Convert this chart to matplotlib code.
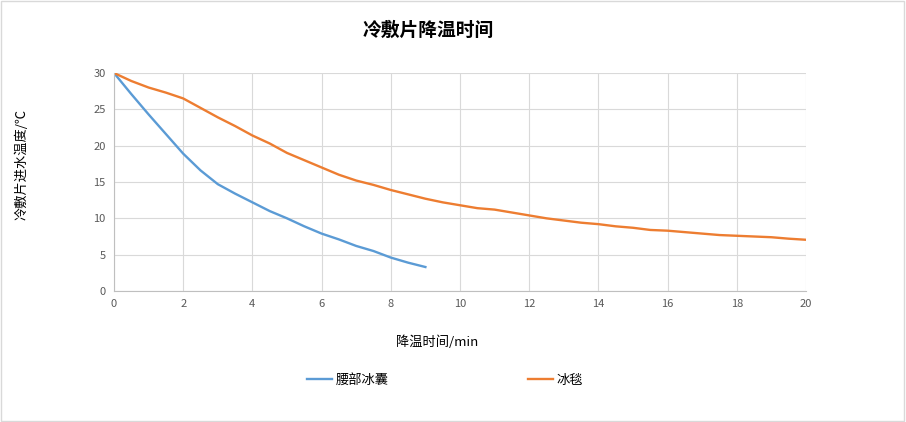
import matplotlib
matplotlib.use("Agg")
import matplotlib.pyplot as plt

plt.rcParams['font.family'] = ['Noto Sans CJK SC', 'DejaVu Sans']

# data (min, degC)
t_waist = [0, 0.5, 1, 1.5, 2, 2.5, 3, 3.5, 4, 4.5, 5, 5.5, 6, 6.5, 7, 7.5, 8, 8.5, 9]
temp_waist = [30, 27.1, 24.3, 21.6, 18.9, 16.6, 14.7, 13.4, 12.2, 11.0, 10.0, 8.9, 7.9, 7.1, 6.2, 5.5, 4.6, 3.9, 3.3]

t_blanket = [0, 0.5, 1, 1.5, 2, 2.5, 3, 3.5, 4, 4.5, 5, 5.5, 6, 6.5, 7, 7.5, 8, 8.5, 9, 9.5,
             10, 10.5, 11, 11.5, 12, 12.5, 13, 13.5, 14, 14.5, 15, 15.5, 16, 16.5, 17, 17.5,
             18, 18.5, 19, 19.5, 20]
temp_blanket = [30, 28.9, 28.0, 27.3, 26.5, 25.2, 23.9, 22.7, 21.4, 20.3, 19.0, 18.0, 17.0, 16.0,
                15.2, 14.6, 13.9, 13.3, 12.7, 12.2, 11.8, 11.4, 11.2, 10.8, 10.4, 10.0, 9.7, 9.4,
                9.2, 8.9, 8.7, 8.4, 8.3, 8.1, 7.9, 7.7, 7.6, 7.5, 7.4, 7.2, 7.05]

series_names = ['腰部冰囊', '冰毯']
colors = ['#5B9BD5', '#ED7D31']

fig = plt.figure(figsize=(9.06, 4.22), dpi=100)
ax = fig.add_axes([114 / 906, 1 - 291 / 422, 692 / 906, 218 / 422])

ax.plot(t_waist, temp_waist, color=colors[0], lw=1.7, label=series_names[0])
ax.plot(t_blanket, temp_blanket, color=colors[1], lw=1.7, label=series_names[1])

ax.set_xlim(0, 20)
ax.set_ylim(0, 30)
ax.set_xticks(range(0, 21, 2))
ax.set_yticks(range(0, 31, 5))
ax.grid(True, color='#d9d9d9', lw=0.8)
ax.set_axisbelow(True)
for s in ['top', 'right']:
    ax.spines[s].set_visible(False)
for s in ['left', 'bottom']:
    ax.spines[s].set_color('#bfbfbf')
ax.tick_params(length=0, labelsize=8, colors='#595959', pad=6)

fig.text(428 / 906, 1 - 30 / 422, '冷敷片降温时间', ha='center', va='center', fontsize=13.5,
         fontweight='bold', color='#000000')
fig.text(437 / 906, 1 - 342 / 422, '降温时间/min', ha='center', va='center', fontsize=9.5)
fig.text(22 / 906, 1 - 164 / 422, '冷敷片进水温度/℃', ha='center', va='center', fontsize=9.5,
         rotation=90)

fig.legend(loc='center', bbox_to_anchor=(445 / 906, 1 - 380 / 422), ncol=2, frameon=False,
           fontsize=9.5, handlelength=1.9, handletextpad=0.3, columnspacing=10.5)

fig.add_artist(plt.Rectangle((0.001, 0.002), 0.997, 0.995, transform=fig.transFigure,
                             fill=False, edgecolor='#d9d9d9', lw=1))

fig.savefig('out.png', dpi=100)
